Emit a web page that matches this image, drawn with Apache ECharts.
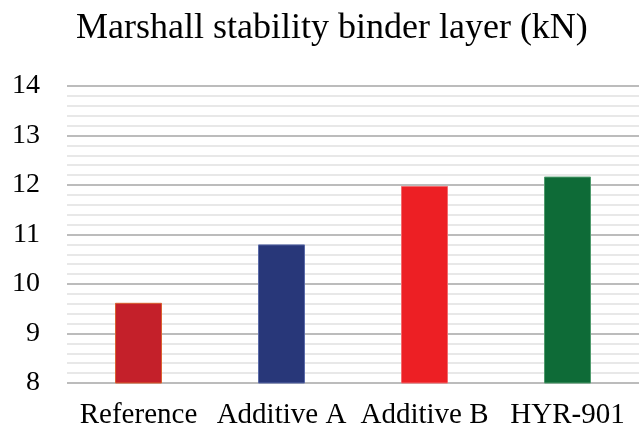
<!DOCTYPE html>
<html>
<head>
<meta charset="utf-8">
<script src="https://cdn.jsdelivr.net/npm/echarts@6/dist/echarts.min.js"></script>
<style>
  html, body { margin: 0; padding: 0; background: #fff; }
  #chart { width: 639px; height: 430px; }
</style>
</head>
<body>
<div id="chart"></div>
<script>
// Marshall stability of the binder layer per mix
const categories = ['Reference', 'Additive A', 'Additive B', 'HYR-901'];
const stability = [9.62, 10.8, 11.98, 12.17];
const barColors = ['#C4202A', '#283779', '#ED1F24', '#0E6B37'];
const barBorders = ['#D9602F', '#5A6AA8', '#F36A6D', '#4E9A6C'];
const yTicks = [8, 9, 10, 11, 12, 13, 14];

const serif = '"Liberation Serif", "Times New Roman", serif';

const chart = echarts.init(document.getElementById('chart'), null, { renderer: 'canvas' });
chart.setOption({
  animation: false,
  backgroundColor: '#ffffff',
  title: {
    text: 'Marshall stability binder layer (kN)',
    left: 71,
    top: 6,
    textStyle: { fontFamily: serif, fontSize: 36, fontWeight: 'normal', color: '#000' }
  },
  grid: { left: 67, top: 86, width: 573, bottom: 47, containLabel: false },
  xAxis: {
    type: 'category',
    data: categories,
    axisLine: { show: false },
    axisTick: { show: false },
    axisLabel: { fontFamily: serif, fontSize: 29, color: '#000', margin: 18, interval: 0 }
  },
  yAxis: {
    type: 'value',
    min: yTicks[0],
    max: yTicks[yTicks.length - 1],
    interval: 1,
    axisLine: { show: false },
    axisTick: { show: false },
    axisLabel: { fontFamily: serif, fontSize: 28, color: '#000', margin: 27 },
    splitLine: { show: true, lineStyle: { color: '#BCBCBC', width: 2 } },
    minorTick: { show: false, splitNumber: 5 },
    minorSplitLine: { show: true, lineStyle: { color: '#E8E8E8', width: 2 } }
  },
  series: [{
    type: 'bar',
    barWidth: 47,
    data: stability.map((v, i) => ({
      value: v,
      itemStyle: { color: barColors[i], borderColor: barBorders[i], borderWidth: 1 }
    }))
  }]
});
</script>
</body>
</html>
